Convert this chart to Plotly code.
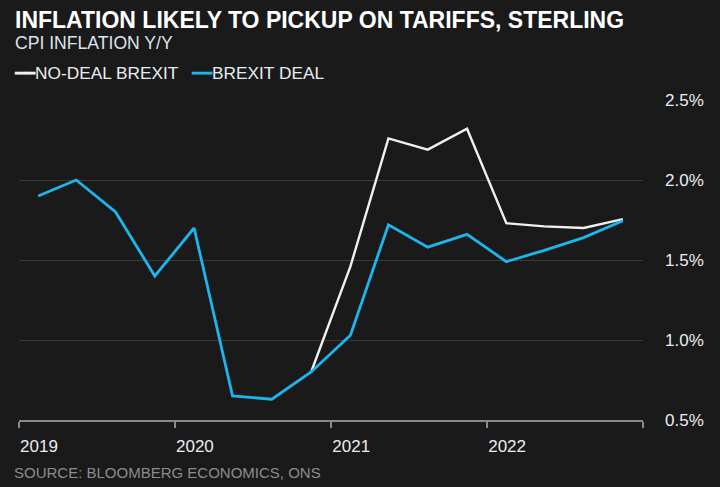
import plotly.graph_objects as go

# ---- data ----
dates = [
    "2019-02-15", "2019-05-15", "2019-08-15", "2019-11-15",
    "2020-02-15", "2020-05-15", "2020-08-15", "2020-11-15",
    "2021-02-15", "2021-05-15", "2021-08-15", "2021-11-15",
    "2022-02-15", "2022-05-15", "2022-08-15", "2022-11-15",
]
brexit_deal = [1.90, 2.00, 1.80, 1.40, 1.70, 0.65, 0.63, 0.80,
               1.03, 1.72, 1.58, 1.66, 1.49, 1.56, 1.64, 1.745]
no_deal_brexit = [None, None, None, None, None, None, None, 0.80,
                  1.46, 2.26, 2.19, 2.32, 1.73, 1.71, 1.70, 1.755]

year_ticks = ["2019-01-01", "2020-01-01", "2021-01-01", "2022-01-01", "2023-01-01"]
year_labels = ["2019", "2020", "2021", "2022", ""]
y_ticks = [0.5, 1.0, 1.5, 2.0, 2.5]
y_labels = ["0.5%", "1.0%", "1.5%", "2.0%", "2.5%"]

title = "INFLATION LIKELY TO PICKUP ON TARIFFS, STERLING"
subtitle = "CPI INFLATION Y/Y"
source = "SOURCE: BLOOMBERG ECONOMICS, ONS"

BG = "#1a1a1a"
WHITE_LINE = "#f0f0f0"
BLUE_LINE = "#1cb5ed"
FONT = "Arial, Liberation Sans, sans-serif"

W, H = 720, 487
L, R, T, B = 19, 77, 100, 67
pw, ph = W - L - R, H - T - B


def px_x(x):
    return (x - L) / pw


def px_y(y):
    return (H - B - y) / ph


fig = go.Figure()
fig.add_trace(go.Scatter(x=dates, y=no_deal_brexit, name="NO-DEAL BREXIT", mode="lines",
                         line=dict(color=WHITE_LINE, width=2.4), showlegend=False))
fig.add_trace(go.Scatter(x=dates, y=brexit_deal, name="BREXIT DEAL", mode="lines",
                         line=dict(color=BLUE_LINE, width=2.8), showlegend=False))

fig.update_layout(
    width=W, height=H,
    margin=dict(l=L, r=R, t=T, b=B),
    paper_bgcolor=BG, plot_bgcolor=BG,
    font=dict(family=FONT, color="#e8edf2"),
    showlegend=False,
    xaxis=dict(
        type="date", range=["2019-01-01", "2023-01-01"],
        tickvals=year_ticks, ticktext=year_labels,
        showgrid=False, zeroline=False,
        showline=True, linecolor="#8a8a8a", linewidth=1.5,
        ticks="outside", ticklen=6, tickwidth=1.5, tickcolor="#8a8a8a",
        tickfont=dict(size=17, color="#e8edf2", family=FONT),
        ticklabelshift=20, ticklabelstandoff=4,
    ),
    yaxis=dict(
        side="right", range=[0.5, 2.5],
        tickvals=y_ticks, ticktext=y_labels,
        showgrid=True, gridcolor="#3a3a3a", gridwidth=1,
        zeroline=False, showline=False, ticks="",
        tickfont=dict(size=17, color="#e8edf2", family=FONT),
        ticklabelstandoff=21,
    ),
)

ann = [
    dict(text="<b>" + title + "</b>", x=px_x(13), y=px_y(20),
         font=dict(size=23, color="#ffffff", family=FONT)),
    dict(text=subtitle, x=px_x(13), y=px_y(43),
         font=dict(size=17.6, color="#dde4ec", family=FONT)),
    dict(text='<span style="color:%s">━━</span>NO-DEAL BREXIT' % WHITE_LINE,
         x=px_x(12), y=px_y(73), font=dict(size=17.3, color="#e8edf2", family=FONT)),
    dict(text='<span style="color:%s">━━</span>BREXIT DEAL' % BLUE_LINE,
         x=px_x(189), y=px_y(73), font=dict(size=17.3, color="#e8edf2", family=FONT)),
    dict(text=source, x=px_x(12), y=px_y(472),
         font=dict(size=15, color="#8c8c8c", family=FONT)),
]
for a in ann:
    fig.add_annotation(xref="paper", yref="paper", xanchor="left", yanchor="middle",
                       showarrow=False, **a)

fig.write_html(
    "out.html",
    config={"displayModeBar": False},
    post_script="document.body.style.margin='0';document.body.style.padding='0';"
                "document.body.style.background='%s';" % BG,
)
